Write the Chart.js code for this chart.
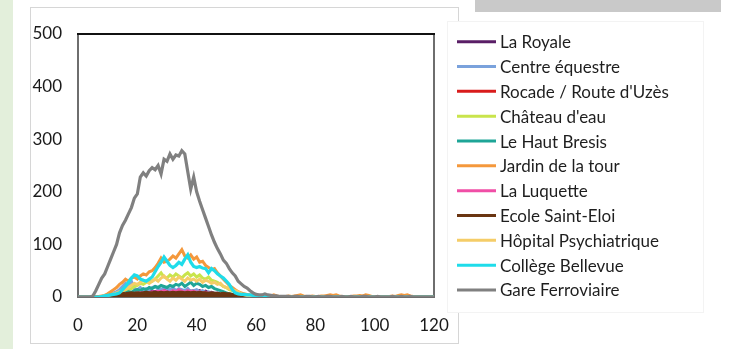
<!DOCTYPE html>
<html>
<head>
<meta charset="utf-8">
<script src="https://cdn.jsdelivr.net/npm/chart.js@4/dist/chart.umd.min.js"></script>
<style>
  html, body { margin:0; padding:0; background:#ffffff; }
  body { width:732px; height:349px; position:relative; overflow:hidden; }
  #strip { position:absolute; left:0; top:0; width:13px; height:349px; background:#e3efdb; }
  #frame { position:absolute; left:30px; top:7px; width:427px; height:335px; border:1px solid #d6d6d6; background:#fff; }
  #legbox { position:absolute; left:447px; top:21px; width:255px; height:290px; border:1px solid #f3f3f3; background:#fff; }
  #greybox { position:absolute; left:475px; top:0px; width:246px; height:12px; background:#c9c9c9; }
  #c { position:absolute; left:0; top:0; }
</style>
</head>
<body>
<div id="strip"></div>
<div id="frame"></div>
<div id="legbox"></div>
<div id="greybox"></div>
<canvas id="c" width="732" height="349"></canvas>
<script>
// ---- data ----
const minutes = [0,1,2,3,4,5,6,7,8,9,10,11,12,13,14,15,16,17,18,19,20,21,22,23,24,25,26,27,28,29,30,31,32,33,34,35,36,37,38,39,40,41,42,43,44,45,46,47,48,49,50,51,52,53,54,55,56,57,58,59,60,61,62,63,64,65,66,67,68,69,70,71,72,73,74,75,76,77,78,79,80,81,82,83,84,85,86,87,88,89,90,91,92,93,94,95,96,97,98,99,100,101,102,103,104,105,106,107,108,109,110,111,112,113,114,115,116,117,118,119,120];
const xTicks = [0,20,40,60,80,100,120];
const yTicks = [0,100,200,300,400,500];

const seriesNames = ["La Royale","Centre équestre","Rocade / Route d'Uzès","Château d'eau","Le Haut Bresis","Jardin de la tour","La Luquette","Ecole Saint-Eloi","Hôpital Psychiatrique","Collège Bellevue","Gare Ferroviaire"];

const laRoyale = [0,0,0,0,0,0,0,0,0,0, 1,2,2,3,4,5,6,5,7,8, 7,9,8,10,9,11,10,12,11,13, 12,10,13,11,14,12,10,13,11,12, 10,12,9,11,8,9,7,6,5,4, 3,3,2,2,1,1,0,0,0,0, 0,0,0,0,0,0,0,0,0,0, 0,0,0,0,0,0,0,0,0,0, 0,0,0,0,0,0,0,0,0,0, 0,0,0,0,0,0,0,0,0,0, 0,0,0,0,0,0,0,0,0,0, 0,0,0,0,0,0,0,0,0,0, 0];
const centreEquestre = [0,0,0,0,0,0,0,0,1,2, 4,6,8,10,14,20,26,18,30,16, 14,18,12,16,14,18,20,16,14,18, 16,14,18,12,16,14,12,16,10,12, 14,10,12,8,10,8,6,8,5,4, 3,3,2,2,1,1,0,0,0,0, 0,0,0,0,0,0,0,0,0,0, 0,0,0,0,0,0,0,0,0,0, 0,0,0,0,0,0,0,0,0,0, 0,0,0,0,0,0,0,0,0,0, 0,0,0,0,0,0,0,0,0,0, 0,0,0,0,0,0,0,0,0,0, 0];
const rocade = [0,0,0,0,0,0,0,0,0,0, 1,1,2,2,3,3,4,4,5,5, 6,5,7,6,8,7,6,8,7,9, 8,7,9,6,8,10,7,8,6,9, 7,8,6,7,5,6,4,5,3,4, 3,2,2,1,1,0,0,0,0,0, 0,0,0,0,0,0,0,0,0,0, 0,0,0,0,0,0,0,0,0,0, 0,0,0,0,0,0,0,0,0,0, 0,0,0,0,0,0,0,0,0,0, 0,0,0,0,0,0,0,0,0,0, 0,0,0,0,0,0,0,0,0,0, 0];
const chateauEau = [0,0,0,0,0,0,0,0,0,1, 2,3,4,6,8,10,12,14,16,20, 22,26,24,28,32,30,34,40,46,38, 36,42,38,44,40,36,42,46,40,44, 38,42,36,34,38,32,30,28,24,20, 18,14,12,10,8,6,4,3,2,2, 1,1,0,0,0,0,0,0,0,0, 0,0,0,0,0,0,0,0,0,0, 0,0,0,0,0,0,0,0,0,0, 0,0,0,0,0,0,0,0,0,0, 0,0,0,0,0,0,0,0,0,0, 0,0,0,0,0,0,0,0,0,0, 0];
const hautBresis = [0,0,0,0,0,0,0,0,0,0, 1,2,3,4,5,6,8,10,9,12, 14,12,16,14,18,16,20,18,22,20, 18,22,20,24,22,26,20,24,28,22, 26,24,20,22,18,20,16,14,12,10, 8,6,5,4,3,2,2,1,1,0, 0,0,0,0,0,0,0,0,0,0, 0,0,0,0,0,0,0,0,0,0, 0,0,0,0,0,0,0,0,0,0, 0,0,0,0,0,0,0,0,0,0, 0,0,0,0,0,0,0,0,0,0, 0,0,0,0,0,0,0,0,0,0, 0];
const jardinTour = [0,0,0,0,0,0,0,1,2,3, 6,10,14,18,24,28,34,30,36,38, 34,40,44,42,48,50,56,64,74,66, 68,72,78,74,82,90,78,74,80,72, 76,66,68,60,56,52,54,46,40,34, 28,22,18,14,10,8,6,5,4,4, 3,3,2,2,3,2,4,2,1,1, 1,2,1,2,3,4,2,1,1,2, 1,1,2,2,3,4,3,4,2,1, 1,1,1,2,2,3,2,4,3,1, 1,1,1,1,1,1,2,1,3,4, 3,4,2,1,1,0,0,0,0,0, 0];
const laLuquette = [0,0,0,0,0,0,0,0,0,0, 1,2,2,3,3,4,5,6,5,7, 6,8,7,9,8,10,9,11,10,12, 10,9,12,10,14,11,9,12,10,11, 9,10,8,9,7,8,6,7,5,4, 3,3,2,2,1,1,0,0,0,0, 0,0,0,0,0,0,0,0,0,0, 0,0,0,0,0,0,0,0,0,0, 0,0,0,0,0,0,0,0,0,0, 0,0,0,0,0,0,0,0,0,0, 0,0,0,0,0,0,0,0,0,0, 0,0,0,0,0,0,0,0,0,0, 0];
const ecoleSaintEloi = [0,0,0,0,0,0,0,0,0,0, 2,4,5,6,6,7,6,7,8,7, 8,7,8,9,8,8,9,8,9,8, 9,8,9,8,9,9,8,9,8,9, 8,9,8,8,7,8,7,7,6,7, 6,6,5,4,2,1,0,0,0,0, 0,0,0,0,0,0,0,0,0,0, 0,0,0,0,0,0,0,0,0,0, 0,0,0,0,0,0,0,0,0,0, 0,0,0,0,0,0,0,0,0,0, 0,0,0,0,0,0,0,0,0,0, 0,0,0,0,0,0,0,0,0,0, 0];
const hopital = [0,0,0,0,0,0,0,0,1,2, 3,4,6,8,10,12,14,18,22,26, 24,28,32,30,26,30,34,30,36,40, 34,30,36,32,38,34,30,36,32,34, 30,34,28,32,30,26,28,24,26,20, 18,16,14,12,10,6,4,3,2,1, 1,0,0,0,0,0,0,0,0,0, 0,0,0,0,0,0,0,0,0,0, 0,0,0,0,0,0,0,0,0,0, 0,0,0,0,0,0,0,0,0,0, 0,0,0,0,0,0,0,0,0,0, 0,0,0,0,0,0,0,0,0,0, 0];
const collegeBellevue = [0,0,0,0,0,0,0,0,1,2, 3,4,5,6,8,14,20,28,36,42, 40,34,32,30,34,38,48,58,66,76, 68,60,56,60,66,62,72,80,66,58, 56,58,55,54,46,54,50,44,40,36, 30,24,14,8,6,5,5,4,4,3, 3,2,2,1,0,0,0,0,0,0, 0,0,0,0,0,0,0,0,0,0, 0,0,0,0,0,0,0,0,0,0, 0,0,0,0,0,0,0,0,0,0, 0,0,0,0,0,0,0,0,0,0, 0,0,0,0,0,0,0,0,0,0, 0];
const gareFerroviaire = [0,0,0,0,0,2,12,24,36,44, 58,72,86,100,122,136,146,158,170,188, 196,228,236,230,240,246,242,250,234,262, 258,272,262,270,268,278,272,238,205,228, 200,182,166,150,134,118,104,92,82,70, 64,54,46,40,30,25,20,17,12,8, 5,4,4,6,4,3,2,2,1,1, 1,1,0,1,1,0,0,1,1,0, 0,1,0,0,1,1,0,0,0,1, 0,0,1,0,0,0,1,1,0,0, 0,1,0,0,0,0,1,0,0,1, 0,0,1,0,0,0,0,0,0,0, 0];

const seriesValues = [laRoyale, centreEquestre, rocade, chateauEau, hautBresis, jardinTour, laLuquette, ecoleSaintEloi, hopital, collegeBellevue, gareFerroviaire];
const seriesColors = ["#5a1e66","#7aa2dc","#d91c1c","#c9e44c","#1ea597","#f4983c","#f04ea6","#6a3512","#f5cd68","#1fdcea","#808080"];
const seriesWidths = [3,3,3,3,3,3,3,3,3,3.2,3.2];

const datasets = seriesNames.map((name, i) => ({
  label: name,
  data: minutes.map((m, k) => ({x: m, y: seriesValues[i][k]})),
  borderColor: seriesColors[i],
  backgroundColor: seriesColors[i],
  borderWidth: seriesWidths[i],
  pointRadius: 0,
  tension: 0,
  fill: name === "Ecole Saint-Eloi" ? 'origin' : false,
  order: seriesNames.length - 1 - i
}));

const FONT = "Lato, 'Liberation Sans', sans-serif";

const framePlugin = {
  id: 'frame',
  beforeDatasetsDraw(chart) {
    const a = chart.chartArea, ctx = chart.ctx;
    ctx.save();
    ctx.lineWidth = 2;
    ctx.strokeStyle = '#6e6e6e';
    ctx.beginPath();
    ctx.moveTo(a.left, a.top); ctx.lineTo(a.left, a.bottom); ctx.lineTo(a.right, a.bottom); ctx.lineTo(a.right, a.top);
    ctx.stroke();
    ctx.strokeStyle = '#111111';
    ctx.beginPath();
    ctx.moveTo(a.left - 1, a.top); ctx.lineTo(a.right + 1, a.top);
    ctx.stroke();
    ctx.restore();
  }
};

const legendPlugin = {
  id: 'customLegend',
  afterDraw(chart) {
    const ctx = chart.ctx;
    ctx.save();
    ctx.font = "17px " + FONT;
    ctx.textBaseline = 'middle';
    ctx.textAlign = 'left';
    chart.data.datasets.forEach((ds, i) => {
      const y = 41.7 + i * 24.83;
      ctx.strokeStyle = ds.borderColor;
      ctx.lineWidth = 3;
      ctx.beginPath();
      ctx.moveTo(457, y); ctx.lineTo(496, y);
      ctx.stroke();
      ctx.fillStyle = '#1e1e1e';
      ctx.fillText(ds.label, 500, y + 1);
    });
    ctx.restore();
  }
};

new Chart(document.getElementById('c'), {
  type: 'line',
  data: { datasets },
  options: {
    responsive: false,
    animation: false,
    devicePixelRatio: 1,
    layout: { padding: { left: 0, top: 34, right: 298, bottom: 0 } },
    plugins: { legend: { display: false }, tooltip: { enabled: false } },
    scales: {
      x: {
        type: 'linear',
        min: xTicks[0], max: xTicks[xTicks.length - 1],
        afterFit(s) { s.height = 52; },
        afterBuildTicks(s) { s.ticks = xTicks.map(v => ({value: v})); },
        grid: { display: false, drawTicks: false },
        border: { display: false },
        ticks: { padding: 18, color: '#1a1a1a', font: { family: FONT, size: 17 } }
      },
      y: {
        min: yTicks[0], max: yTicks[yTicks.length - 1],
        afterFit(s) { s.width = 78; },
        afterBuildTicks(s) { s.ticks = yTicks.map(v => ({value: v})); },
        grid: { display: false, drawTicks: false },
        border: { display: false },
        ticks: { padding: 16, color: '#1a1a1a', font: { family: FONT, size: 17 } }
      }
    }
  },
  plugins: [framePlugin, legendPlugin]
});
</script>
</body>
</html>
